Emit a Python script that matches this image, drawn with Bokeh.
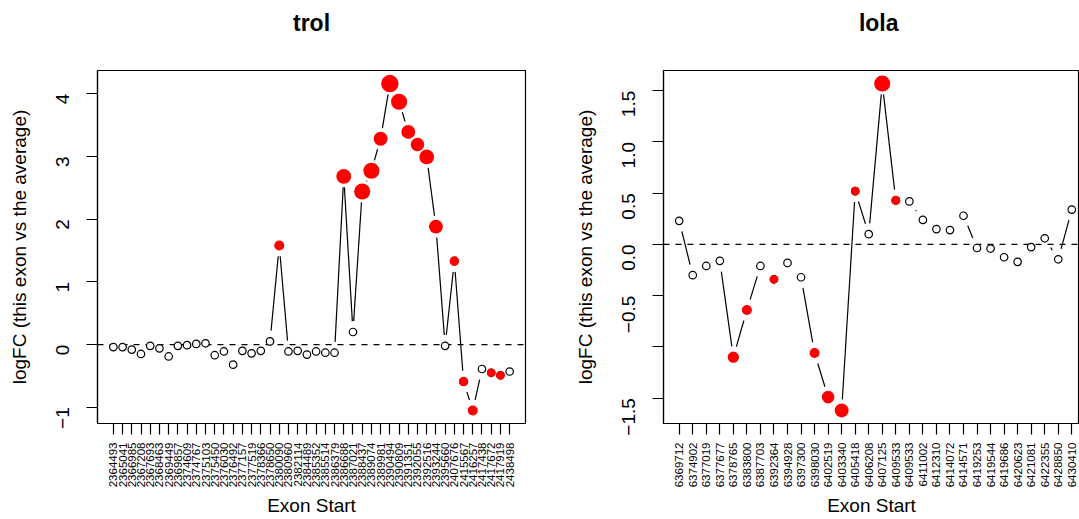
import math
from bokeh.plotting import figure
from bokeh.layouts import row
from bokeh.models import FixedTicker, Span, Range1d
from bokeh.embed import file_html
from bokeh.resources import INLINE

# ---------------- data ----------------
trol_starts = [2364493, 2365041, 2366985, 2367208, 2367693, 2368463, 2369449, 2369857,
               2374609, 2374767, 2375103, 2375450, 2376030, 2376492, 2377157, 2377519,
               2378366, 2378650, 2380090, 2380960, 2382114, 2384489, 2385352, 2385514,
               2386379, 2386688, 2387021, 2388437, 2389074, 2389981, 2390494, 2390809,
               2391351, 2392055, 2392516, 2393244, 2395660, 2407676, 2415567, 2416257,
               2417438, 2417672, 2417919, 2438498]
trol_logfc = [-0.04, -0.04, -0.08, -0.15, -0.02, -0.06, -0.19, -0.02,
              -0.01, 0.01, 0.02, -0.17, -0.11, -0.32, -0.10, -0.14,
              -0.10, 0.05, 1.58, -0.11, -0.10, -0.16, -0.11, -0.13,
              -0.13, 2.68, 0.20, 2.44, 2.77, 3.28, 4.16, 3.87,
              3.39, 3.19, 2.99, 1.88, -0.02, 1.33, -0.59, -1.05,
              -0.39, -0.45, -0.49, -0.43]
# relative size of the red (significant) points, 0 = not significant
trol_cex = [0, 0, 0, 0, 0, 0, 0, 0,
            0, 0, 0, 0, 0, 0, 0, 0,
            0, 0, 1.15, 0, 0, 0, 0, 0,
            0, 1.7, 0, 1.85, 1.85, 1.6, 2.0, 1.85,
            1.6, 1.55, 1.7, 1.6, 0, 1.1, 1.1, 1.15,
            0, 1.0, 1.0, 0]

lola_starts = [6369712, 6374902, 6377019, 6377677, 6378765, 6383800, 6387703, 6392364,
               6394928, 6397300, 6398030, 6402519, 6403340, 6405418, 6406208, 6407125,
               6409533, 6409533, 6411002, 6412310, 6414072, 6414571, 6419253, 6419544,
               6419686, 6420623, 6421081, 6422355, 6428850, 6430410]
lola_logfc = [0.23, -0.30, -0.21, -0.16, -1.10, -0.64, -0.21, -0.34,
              -0.18, -0.32, -1.06, -1.49, -1.62, 0.52, 0.10, 1.57,
              0.43, 0.42, 0.24, 0.15, 0.14, 0.28, -0.035, -0.04,
              -0.125, -0.17, -0.026, 0.06, -0.145, 0.34]
lola_cex = [0, 0, 0, 0, 1.3, 1.15, 0, 1.0,
            0, 0, 1.15, 1.45, 1.6, 1.0, 0, 1.85,
            1.05, 0, 0, 0, 0, 0, 0, 0,
            0, 0, 0, 0, 0, 0]

trol_yticks = [-1, 0, 1, 2, 3, 4]
trol_ylabels = ["\u22121", "0", "1", "2", "3", "4"]
lola_yticks = [-1.5, -1.0, -0.5, 0.0, 0.5, 1.0, 1.5]
lola_ylabels = ["\u22121.5", "", "\u22120.5", "0.0", "0.5", "1.0", "1.5"]

# ---------------- layout constants ----------------
FONT = "Liberation Sans"
H = 519
TOP = 70
BOTTOM = 92
LEFT = 97
FRAME_H = H - TOP - BOTTOM
GAP = 11                # R type="b" gap around each point, px
OPEN_D = 8.7            # diameter of an open point, px


def panel(title, starts, logfc, cex, yticks, ylabels, fig_w, right_border,
          full_w=None, title_align="center", title_offset=0):
    n = len(logfc)
    xs = list(range(1, n + 1))
    xpad = 0.04 * (n - 1)
    x0 = 1 - xpad
    x1 = n + xpad
    frame_w = fig_w - LEFT - right_border
    if full_w is None:
        full_w = frame_w
    kx = full_w / (x1 - x0)
    x1 = x0 + frame_w / kx
    lo, hi = min(logfc), max(logfc)
    ypad = 0.04 * (hi - lo)
    y0, y1 = lo - ypad, hi + ypad
    ky = FRAME_H / (y1 - y0)

    p = figure(width=fig_w, height=H, x_range=Range1d(x0, x1), y_range=Range1d(y0, y1),
               output_backend="svg", toolbar_location=None,
               min_border_left=LEFT, min_border_right=right_border,
               min_border_top=TOP, min_border_bottom=BOTTOM)
    p.xgrid.visible = False
    p.ygrid.visible = False
    p.outline_line_color = "black"
    p.outline_line_width = 1.2
    p.background_fill_color = "white"
    p.border_fill_color = "white"

    p.title.text = title
    p.title.text_font = FONT
    p.title.text_font_size = "23px"
    p.title.text_font_style = "bold"
    p.title.text_color = "black"
    p.title.align = title_align
    p.title.offset = title_offset
    p.title.standoff = 0
    p.title.padding = dict(left=0, right=0, top=0, bottom=35)

    # x axis
    xa = p.xaxis[0]
    xa.ticker = FixedTicker(ticks=xs)
    xa.major_label_overrides = {i: str(s) for i, s in zip(xs, starts)}
    xa.major_label_orientation = math.pi / 2
    xa.major_label_text_font = FONT
    xa.major_label_text_font_size = "11.5px"
    xa.major_label_text_color = "black"
    xa.major_label_standoff = 8
    xa.major_tick_out = 11
    xa.major_tick_in = 0
    xa.minor_tick_out = 0
    xa.minor_tick_in = 0
    xa.major_tick_line_color = "black"
    xa.axis_line_color = "black"
    xa.axis_line_width = 1.2
    xa.major_tick_line_width = 1.2
    xa.axis_label = "Exon Start"
    xa.axis_label_text_font = FONT
    xa.axis_label_text_font_size = "19px"
    xa.axis_label_text_font_style = "normal"
    xa.axis_label_text_color = "black"
    xa.axis_label_standoff = 5

    # y axis
    ya = p.yaxis[0]
    ya.ticker = FixedTicker(ticks=yticks)
    ya.major_label_overrides = {t: l for t, l in zip(yticks, ylabels)}
    ya.major_label_orientation = math.pi / 2
    ya.major_label_text_font = FONT
    ya.major_label_text_font_size = "19px"
    ya.major_label_text_color = "black"
    ya.major_label_standoff = 24
    ya.major_tick_out = 11
    ya.major_tick_in = 0
    ya.minor_tick_out = 0
    ya.minor_tick_in = 0
    ya.major_tick_line_color = "black"
    ya.major_tick_line_width = 1.2
    ya.axis_line_color = "black"
    ya.axis_line_width = 1.2
    ya.axis_label = "logFC (this exon vs the average)"
    ya.axis_label_text_font = FONT
    ya.axis_label_text_font_size = "19px"
    ya.axis_label_text_font_style = "normal"
    ya.axis_label_text_color = "black"
    ya.axis_label_standoff = 17

    # reference line at 0
    p.add_layout(Span(location=0, dimension="width", line_color="black",
                      line_dash="6 6", line_width=1.2, level="underlay"))

    # R type="b" broken lines
    sx0, sy0, sx1, sy1 = [], [], [], []
    for i in range(n - 1):
        dx = (xs[i + 1] - xs[i]) * kx
        dy = (logfc[i + 1] - logfc[i]) * ky
        d = math.hypot(dx, dy)
        if d > 2 * GAP:
            f = GAP / d
            sx0.append(xs[i] + f * (xs[i + 1] - xs[i]))
            sy0.append(logfc[i] + f * (logfc[i + 1] - logfc[i]))
            sx1.append(xs[i + 1] - f * (xs[i + 1] - xs[i]))
            sy1.append(logfc[i + 1] - f * (logfc[i + 1] - logfc[i]))
    p.segment(x0=sx0, y0=sy0, x1=sx1, y1=sy1, line_color="black", line_width=1.2)

    # open points
    p.scatter(xs, logfc, marker="circle", size=OPEN_D - 1.2, fill_color="white",
              line_color="black", line_width=1.2)
    # significant (red) points
    rx = [x for x, c in zip(xs, cex) if c > 0]
    ry = [v for v, c in zip(logfc, cex) if c > 0]
    rs = [c * OPEN_D for c in cex if c > 0]
    p.scatter(rx, ry, marker="circle", size=rs, fill_color="red", line_color=None)
    return p


p1 = panel("trol", trol_starts, trol_logfc, trol_cex, trol_yticks, trol_ylabels,
           fig_w=566, right_border=41)
p2 = panel("lola", lola_starts, lola_logfc, lola_cex, lola_yticks, lola_ylabels,
           fig_w=513, right_border=0, full_w=424,
           title_align="right", title_offset=181)

layout = row(p1, p2, spacing=0)
open("out.html", "w").write(file_html(layout, INLINE))
